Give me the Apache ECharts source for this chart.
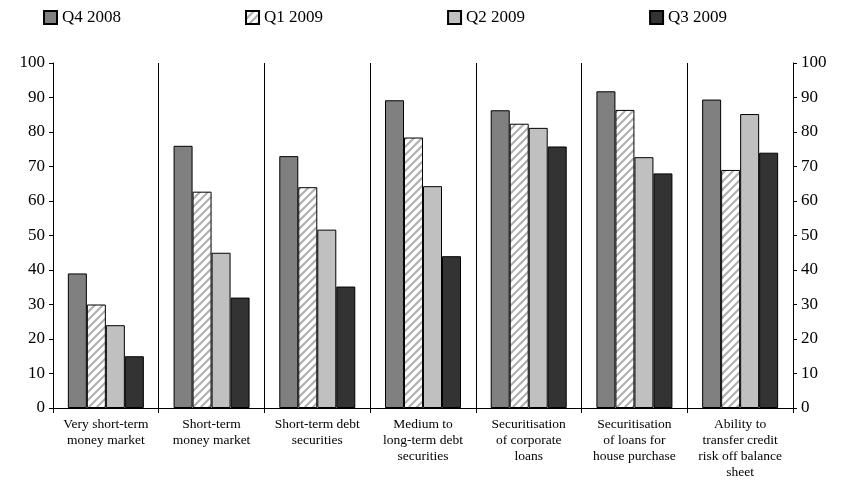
<!DOCTYPE html>
<html><head><meta charset="utf-8">
<script src="https://cdn.jsdelivr.net/npm/echarts@6/dist/echarts.min.js"></script>
<style>body{margin:0}#c{width:843px;height:501px}</style>
</head><body><div id="c"></div>
<script>
let categories = ['Very short-term\nmoney market', 'Short-term\nmoney market', 'Short-term debt\nsecurities', 'Medium to\nlong-term debt\nsecurities', 'Securitisation\nof corporate\nloans', 'Securitisation\nof loans for\nhouse purchase', 'Ability to\ntransfer credit\nrisk off balance\nsheet'];
let q4_2008 = [39, 76, 73, 89.2, 86.3, 91.8, 89.4];
let q1_2009 = [30, 62.7, 64, 78.4, 82.4, 86.4, 69];
let q2_2009 = [24, 45, 51.7, 64.3, 81.2, 72.7, 85.2];
let q3_2009 = [15, 32, 35.2, 44, 75.8, 68, 74];

// hatch pattern for Q1 2009
let pc = document.createElement('canvas');
pc.width = 8; pc.height = 8;
let ctx = pc.getContext('2d');
ctx.fillStyle = '#fff'; ctx.fillRect(0, 0, 8, 8);
ctx.strokeStyle = '#b0b0b0'; ctx.lineWidth = 2.2;
ctx.beginPath();
ctx.moveTo(0, 8); ctx.lineTo(8, 0);
ctx.moveTo(-4, 4); ctx.lineTo(4, -4);
ctx.moveTo(4, 12); ctx.lineTo(12, 4);
ctx.stroke();
let hatch = { image: pc, repeat: 'repeat' };

let font = 'Liberation Serif';
let chart = echarts.init(document.getElementById('c'));
function s(name, data, color) {
    return {
        name: name, type: 'bar', data: data, barWidth: 19, barGap: '0%',
        itemStyle: { color: color, borderColor: '#000', borderWidth: 1 }
    };
}
let yAx = {
    type: 'value', min: 0, max: 100, interval: 10,
    axisLine: { show: true, lineStyle: { color: '#000' } },
    axisTick: { show: true, length: 4, inside: false, lineStyle: { color: '#000' } },
    splitLine: { show: false },
    axisLabel: { color: '#000', fontFamily: font, fontSize: 17 }
};
chart.setOption({
    animation: false,
    legend: {
        top: 4, left: 38, itemGap: 124, itemWidth: 13, itemHeight: 13, icon: 'rect',
        textStyle: { fontFamily: font, fontSize: 17, color: '#000' },
        data: ['Q4 2008', 'Q1 2009', 'Q2 2009', 'Q3 2009']
    },
    grid: { left: 53, right: 50, top: 63, bottom: 93 },
    xAxis: {
        type: 'category', data: categories,
        axisLine: { lineStyle: { color: '#000' } },
        axisTick: { show: true, length: 5, interval: 0, lineStyle: { color: '#000' } },
        splitLine: { show: true, interval: 0, lineStyle: { color: '#000' } },
        axisLabel: { interval: 0, color: '#000', fontFamily: font, fontSize: 13.5, lineHeight: 16, margin: 8 }
    },
    yAxis: [Object.assign({}, yAx, { position: 'left' }), Object.assign({}, yAx, { position: 'right' })],
    series: [
        s('Q4 2008', q4_2008, '#808080'),
        s('Q1 2009', q1_2009, hatch),
        s('Q2 2009', q2_2009, '#c0c0c0'),
        s('Q3 2009', q3_2009, '#333333')
    ]
});
</script></body></html>
